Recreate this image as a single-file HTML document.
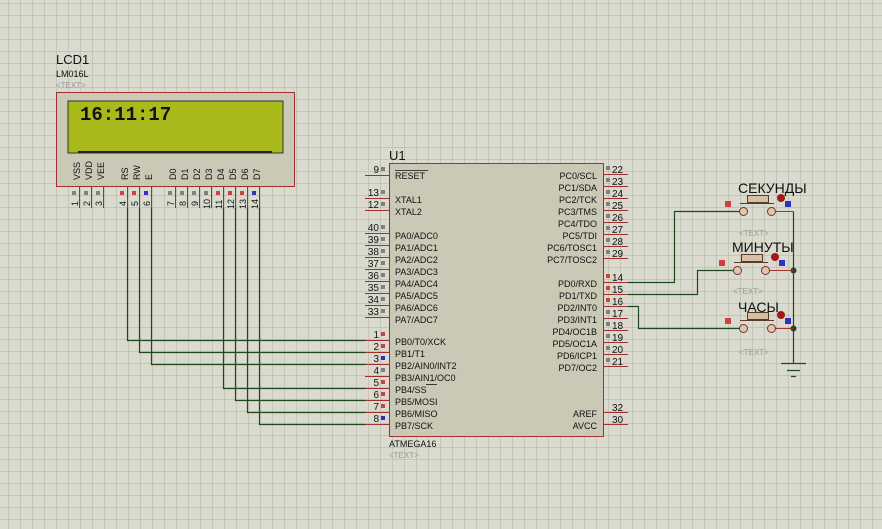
<!DOCTYPE html>
<html><head><meta charset="utf-8"><style>
html,body{margin:0;padding:0;background:#dadbce;}
svg{display:block;font-family:"Liberation Sans",sans-serif;}
</style></head><body>
<svg width="882" height="529" viewBox="0 0 882 529" xmlns="http://www.w3.org/2000/svg">
<defs>
<pattern id="g" x="8" y="3" width="12" height="12" patternUnits="userSpaceOnUse">
<path d="M0 0H12M0 0V12" stroke="#aeb0a3" stroke-width="1" fill="none"/>
</pattern>
</defs>
<rect width="882" height="529" fill="#dadbce"/>
<rect width="882" height="529" fill="url(#g)"/>

<!-- LCD -->
<text x="56" y="64" font-size="13" fill="#111">LCD1</text>
<text x="56" y="77" font-size="9" fill="#111">LM016L</text>
<text x="56" y="88" font-size="8" fill="#999">&lt;TEXT&gt;</text>
<rect x="56.5" y="92.5" width="238" height="94" fill="#c9c9b5" stroke="#a03030"/>
<rect x="68" y="101" width="215" height="52" fill="#a9b91c" stroke="#333" stroke-width="1"/>
<line x1="78" y1="152" x2="272" y2="152" stroke="#222" stroke-width="2"/>
<text x="80" y="120" font-family="Liberation Mono,monospace" font-weight="bold" font-size="19" fill="#111">16:11:17</text>
<g font-size="9" fill="#111">
<text transform="translate(80,180) rotate(-90)">VSS</text>
<text transform="translate(92,180) rotate(-90)">VDD</text>
<text transform="translate(104,180) rotate(-90)">VEE</text>
<text transform="translate(128,180) rotate(-90)">RS</text>
<text transform="translate(140,180) rotate(-90)">RW</text>
<text transform="translate(152,180) rotate(-90)">E</text>
<text transform="translate(176,180) rotate(-90)">D0</text>
<text transform="translate(188,180) rotate(-90)">D1</text>
<text transform="translate(200,180) rotate(-90)">D2</text>
<text transform="translate(212,180) rotate(-90)">D3</text>
<text transform="translate(224,180) rotate(-90)">D4</text>
<text transform="translate(236,180) rotate(-90)">D5</text>
<text transform="translate(248,180) rotate(-90)">D6</text>
<text transform="translate(260,180) rotate(-90)">D7</text>
</g>
<g stroke="#a03030" stroke-width="1">
<path d="M79.5 187V208M91.5 187V208M103.5 187V208M127.5 187V208M139.5 187V208M151.5 187V208M175.5 187V208M187.5 187V208M199.5 187V208M211.5 187V208M223.5 187V208M235.5 187V208M247.5 187V208M259.5 187V208"/>
</g>
<g>
<rect x="72" y="191" width="4" height="4" fill="#808080"/>
<rect x="84" y="191" width="4" height="4" fill="#808080"/>
<rect x="96" y="191" width="4" height="4" fill="#808080"/>
<rect x="120" y="191" width="4" height="4" fill="#d04040"/>
<rect x="132" y="191" width="4" height="4" fill="#d04040"/>
<rect x="144" y="191" width="4" height="4" fill="#3030c0"/>
<rect x="168" y="191" width="4" height="4" fill="#808080"/>
<rect x="180" y="191" width="4" height="4" fill="#808080"/>
<rect x="192" y="191" width="4" height="4" fill="#808080"/>
<rect x="204" y="191" width="4" height="4" fill="#808080"/>
<rect x="216" y="191" width="4" height="4" fill="#d04040"/>
<rect x="228" y="191" width="4" height="4" fill="#d04040"/>
<rect x="240" y="191" width="4" height="4" fill="#d04040"/>
<rect x="252" y="191" width="4" height="4" fill="#3030c0"/>
</g>
<g font-size="9" fill="#111">
<text transform="translate(78,206) rotate(-90)">1</text>
<text transform="translate(90,206) rotate(-90)">2</text>
<text transform="translate(102,206) rotate(-90)">3</text>
<text transform="translate(126,206) rotate(-90)">4</text>
<text transform="translate(138,206) rotate(-90)">5</text>
<text transform="translate(150,206) rotate(-90)">6</text>
<text transform="translate(174,206) rotate(-90)">7</text>
<text transform="translate(186,206) rotate(-90)">8</text>
<text transform="translate(198,206) rotate(-90)">9</text>
<text transform="translate(210,209) rotate(-90)">10</text>
<text transform="translate(222,209) rotate(-90)">11</text>
<text transform="translate(234,209) rotate(-90)">12</text>
<text transform="translate(246,209) rotate(-90)">13</text>
<text transform="translate(258,209) rotate(-90)">14</text>
</g>

<!-- wires LCD -> MCU -->
<g stroke="#1e4a1e" stroke-width="1.2" fill="none">
<path d="M127.5 208V340.5H366"/>
<path d="M139.5 208V352.5H366"/>
<path d="M151.5 208V364.5H366"/>
<path d="M223.5 208V388.5H366"/>
<path d="M235.5 208V400.5H366"/>
<path d="M247.5 208V412.5H366"/>
<path d="M259.5 208V424.5H366"/>
</g>

<!-- MCU -->
<text x="389" y="160" font-size="13" fill="#111">U1</text>
<rect x="389.5" y="163.5" width="214" height="273" fill="#c9c9b5" stroke="#a03030"/>
<text x="389" y="447" font-size="9" fill="#111">ATMEGA16</text>
<text x="389" y="458" font-size="8" fill="#999">&lt;TEXT&gt;</text>

<g stroke="#a03030" stroke-width="1">
<path d="M365 175.5H389M365 198.5H389M365 210.5H389M365 233.5H389M365 245.5H389M365 257.5H389M365 269.5H389M365 281.5H389M365 293.5H389M365 305.5H389M365 317.5H389M365 340.5H389M365 352.5H389M365 364.5H389M365 376.5H389M365 388.5H389M365 400.5H389M365 412.5H389M365 424.5H389"/>
<path d="M604 174.5H628M604 186.5H628M604 198.5H628M604 210.5H628M604 222.5H628M604 234.5H628M604 246.5H628M604 258.5H628M604 282.5H628M604 294.5H628M604 306.5H628M604 318.5H628M604 330.5H628M604 342.5H628M604 354.5H628M604 366.5H628M604 412.5H628M604 424.5H628"/>
</g>
<g font-size="10" fill="#111" text-anchor="end">
<text x="379" y="173">9</text><text x="379" y="196">13</text><text x="379" y="208">12</text>
<text x="379" y="231">40</text><text x="379" y="243">39</text><text x="379" y="255">38</text><text x="379" y="267">37</text>
<text x="379" y="279">36</text><text x="379" y="291">35</text><text x="379" y="303">34</text><text x="379" y="315">33</text>
<text x="379" y="338">1</text><text x="379" y="350">2</text><text x="379" y="362">3</text><text x="379" y="374">4</text>
<text x="379" y="386">5</text><text x="379" y="398">6</text><text x="379" y="410">7</text><text x="379" y="422">8</text>
</g>
<g>
<rect x="381" y="167" width="4" height="4" fill="#808080"/><rect x="381" y="190" width="4" height="4" fill="#808080"/><rect x="381" y="202" width="4" height="4" fill="#808080"/>
<rect x="381" y="225" width="4" height="4" fill="#808080"/><rect x="381" y="237" width="4" height="4" fill="#808080"/><rect x="381" y="249" width="4" height="4" fill="#808080"/><rect x="381" y="261" width="4" height="4" fill="#808080"/>
<rect x="381" y="273" width="4" height="4" fill="#808080"/><rect x="381" y="285" width="4" height="4" fill="#808080"/><rect x="381" y="297" width="4" height="4" fill="#808080"/><rect x="381" y="309" width="4" height="4" fill="#808080"/>
<rect x="381" y="332" width="4" height="4" fill="#d04040"/><rect x="381" y="344" width="4" height="4" fill="#d04040"/><rect x="381" y="356" width="4" height="4" fill="#3030c0"/><rect x="381" y="368" width="4" height="4" fill="#808080"/>
<rect x="381" y="380" width="4" height="4" fill="#d04040"/><rect x="381" y="392" width="4" height="4" fill="#d04040"/><rect x="381" y="404" width="4" height="4" fill="#d04040"/><rect x="381" y="416" width="4" height="4" fill="#3030c0"/>
</g>
<g font-size="10" fill="#111">
<text x="612" y="173">22</text><text x="612" y="185">23</text><text x="612" y="197">24</text><text x="612" y="209">25</text>
<text x="612" y="221">26</text><text x="612" y="233">27</text><text x="612" y="245">28</text><text x="612" y="257">29</text>
<text x="612" y="281">14</text><text x="612" y="293">15</text><text x="612" y="305">16</text><text x="612" y="317">17</text>
<text x="612" y="329">18</text><text x="612" y="341">19</text><text x="612" y="353">20</text><text x="612" y="365">21</text>
<text x="612" y="411">32</text><text x="612" y="423">30</text>
</g>
<g>
<rect x="606" y="166" width="4" height="4" fill="#808080"/><rect x="606" y="178" width="4" height="4" fill="#808080"/><rect x="606" y="190" width="4" height="4" fill="#808080"/><rect x="606" y="202" width="4" height="4" fill="#808080"/>
<rect x="606" y="214" width="4" height="4" fill="#808080"/><rect x="606" y="226" width="4" height="4" fill="#808080"/><rect x="606" y="238" width="4" height="4" fill="#808080"/><rect x="606" y="250" width="4" height="4" fill="#808080"/>
<rect x="606" y="274" width="4" height="4" fill="#d04040"/><rect x="606" y="286" width="4" height="4" fill="#d04040"/><rect x="606" y="298" width="4" height="4" fill="#d04040"/><rect x="606" y="310" width="4" height="4" fill="#808080"/>
<rect x="606" y="322" width="4" height="4" fill="#808080"/><rect x="606" y="334" width="4" height="4" fill="#808080"/><rect x="606" y="346" width="4" height="4" fill="#808080"/><rect x="606" y="358" width="4" height="4" fill="#808080"/>
</g>
<g font-size="9" fill="#111">
<text x="395" y="179">RESET</text>
<line x1="395" y1="170.5" x2="428" y2="170.5" stroke="#111" stroke-width="0.8"/>
<text x="395" y="203">XTAL1</text><text x="395" y="215">XTAL2</text>
<text x="395" y="239">PA0/ADC0</text><text x="395" y="251">PA1/ADC1</text><text x="395" y="263">PA2/ADC2</text><text x="395" y="275">PA3/ADC3</text>
<text x="395" y="287">PA4/ADC4</text><text x="395" y="299">PA5/ADC5</text><text x="395" y="311">PA6/ADC6</text><text x="395" y="323">PA7/ADC7</text>
<text x="395" y="345">PB0/T0/XCK</text><text x="395" y="357">PB1/T1</text><text x="395" y="369">PB2/AIN0/INT2</text><text x="395" y="381">PB3/AIN1/OC0</text>
<text x="395" y="393">PB4/SS</text><line x1="426" y1="384.5" x2="437" y2="384.5" stroke="#111" stroke-width="0.8"/>
<text x="395" y="405">PB5/MOSI</text><text x="395" y="417">PB6/MISO</text><text x="395" y="429">PB7/SCK</text>
</g>
<g font-size="9" fill="#111" text-anchor="end">
<text x="597" y="179">PC0/SCL</text><text x="597" y="191">PC1/SDA</text><text x="597" y="203">PC2/TCK</text><text x="597" y="215">PC3/TMS</text>
<text x="597" y="227">PC4/TDO</text><text x="597" y="239">PC5/TDI</text><text x="597" y="251">PC6/TOSC1</text><text x="597" y="263">PC7/TOSC2</text>
<text x="597" y="287">PD0/RXD</text><text x="597" y="299">PD1/TXD</text><text x="597" y="311">PD2/INT0</text><text x="597" y="323">PD3/INT1</text>
<text x="597" y="335">PD4/OC1B</text><text x="597" y="347">PD5/OC1A</text><text x="597" y="359">PD6/ICP1</text><text x="597" y="371">PD7/OC2</text>
<text x="597" y="417">AREF</text><text x="597" y="429">AVCC</text>
</g>

<!-- wires MCU -> buttons -->
<g stroke="#1e4a1e" stroke-width="1.2" fill="none">
<path d="M628 282.5H674.5V211.5H739"/>
<path d="M628 294.5H697.5V270.5H733"/>
<path d="M628 306.5H638.5V328.5H739"/>
<path d="M793.5 211.5V363"/>
<path d="M781 363.5H806M787 370.5H800M791 376.5H796"/>
</g>
<circle cx="793.5" cy="270.5" r="3" fill="#1e4a1e"/>
<circle cx="793.5" cy="328.5" r="3" fill="#1e4a1e"/>

<!-- buttons -->
<g font-size="14" fill="#111">
<text x="738" y="193">СЕКУНДЫ</text>
<text x="732" y="252">МИНУТЫ</text>
<text x="738" y="312">ЧАСЫ</text>
</g>
<g font-size="8" fill="#999">
<text x="739" y="236">&lt;TEXT&gt;</text>
<text x="733" y="294">&lt;TEXT&gt;</text>
<text x="739" y="355">&lt;TEXT&gt;</text>
</g>
<!-- button 1 -->
<g>
<rect x="747.5" y="195.5" width="21" height="7" fill="#d6c0a2" stroke="#5a3a2a"/>
<line x1="740" y1="203.5" x2="774" y2="203.5" stroke="#5a3a2a"/>
<line x1="775" y1="211.5" x2="793" y2="211.5" stroke="#a03030"/>
<circle cx="743.5" cy="211.5" r="4" fill="#e3c4b0" stroke="#6a3a2a"/>
<circle cx="771.5" cy="211.5" r="4" fill="#e3c4b0" stroke="#6a3a2a"/>
<circle cx="781" cy="198" r="4" fill="#a01818"/>
<rect x="785" y="201" width="6" height="6" fill="#3030c0"/>
<rect x="725" y="201" width="6" height="6" fill="#d04040"/>
</g>
<g>
<rect x="741.5" y="254.5" width="21" height="7" fill="#d6c0a2" stroke="#5a3a2a"/>
<line x1="734" y1="262.5" x2="768" y2="262.5" stroke="#5a3a2a"/>
<line x1="769" y1="270.5" x2="793" y2="270.5" stroke="#a03030"/>
<circle cx="737.5" cy="270.5" r="4" fill="#e3c4b0" stroke="#6a3a2a"/>
<circle cx="765.5" cy="270.5" r="4" fill="#e3c4b0" stroke="#6a3a2a"/>
<circle cx="775" cy="257" r="4" fill="#a01818"/>
<rect x="779" y="260" width="6" height="6" fill="#3030c0"/>
<rect x="719" y="260" width="6" height="6" fill="#d04040"/>
</g>
<g>
<rect x="747.5" y="312.5" width="21" height="7" fill="#d6c0a2" stroke="#5a3a2a"/>
<line x1="740" y1="320.5" x2="774" y2="320.5" stroke="#5a3a2a"/>
<line x1="775" y1="328.5" x2="793" y2="328.5" stroke="#a03030"/>
<circle cx="743.5" cy="328.5" r="4" fill="#e3c4b0" stroke="#6a3a2a"/>
<circle cx="771.5" cy="328.5" r="4" fill="#e3c4b0" stroke="#6a3a2a"/>
<circle cx="781" cy="315" r="4" fill="#a01818"/>
<rect x="785" y="318" width="6" height="6" fill="#3030c0"/>
<rect x="725" y="318" width="6" height="6" fill="#d04040"/>
</g>
</svg>
</body></html>
